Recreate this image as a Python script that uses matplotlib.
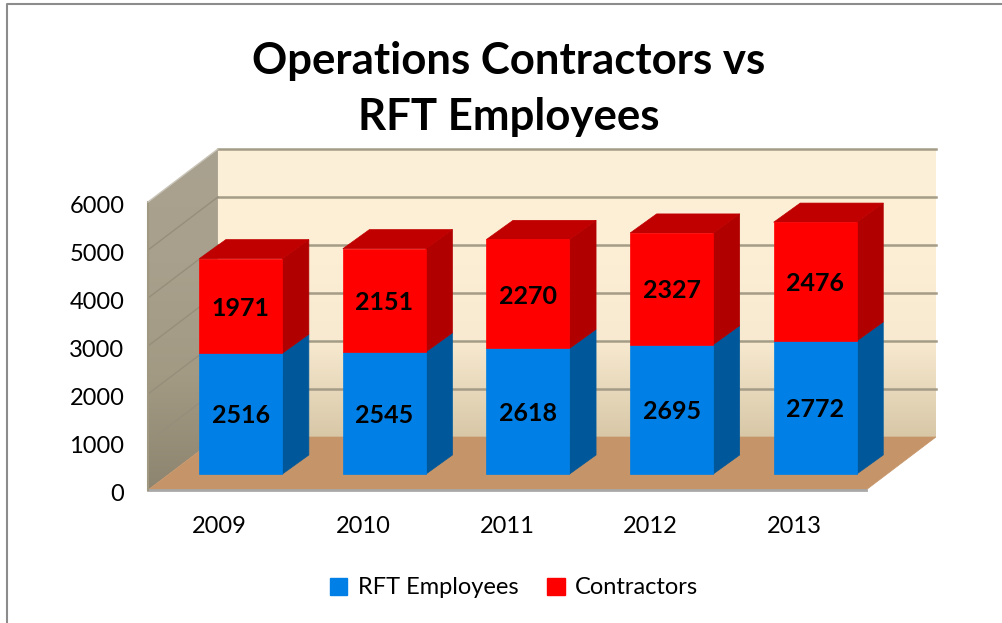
import matplotlib.pyplot as plt
import matplotlib.colors as mcolors
import matplotlib.transforms as mtrans
import numpy as np
from matplotlib.patches import Polygon, Patch

years = ['2009', '2010', '2011', '2012', '2013']
rft = [2516, 2545, 2618, 2695, 2772]
contractors = [1971, 2151, 2270, 2327, 2476]
yticks = [0, 1000, 2000, 3000, 4000, 5000, 6000]

plt.rcParams['font.family'] = ['Lato', 'DejaVu Sans']

fig = plt.figure(figsize=(10.02, 6.23), dpi=100)
ax = fig.add_axes([148 / 1002, 133 / 623, 718 / 1002, 288 / 623])
ax.set_xlim(-0.5, 4.5)
ax.set_ylim(0, 6000)
ax.patch.set_alpha(0)

# depth of the 3d box, in data units
dx = 0.487
dy = 1104
ymax = 6000
x0, x1 = -0.5, 4.5
bar_w = 0.578
bar_depth = 0.38  # part of the box depth a bar takes
bar_start = 0.30  # gap in front of the bars


def gradient(poly, stops, z):
    # vertical gradient clipped to a polygon
    cmap = mcolors.LinearSegmentedColormap.from_list('g', stops)
    xs = [p[0] for p in poly]
    ys = [p[1] for p in poly]
    im = ax.imshow(np.linspace(0, 1, 200).reshape(-1, 1), cmap=cmap, aspect='auto',
                   extent=[min(xs), max(xs), min(ys), max(ys)], origin='upper', zorder=z)
    clip = Polygon(poly, transform=ax.transData, fc='none', ec='none', clip_on=False)
    ax.add_patch(clip)
    # images get cut to the axes box otherwise
    im.set_clip_box(fig.bbox)
    im.set_clip_path(clip)


def face(pts, color, z=3):
    ax.add_patch(Polygon(pts, closed=True, fc=color, ec=color, lw=0.5, zorder=z, clip_on=False))


def bar_label(x, y, val):
    ax.annotate(str(val), (x, y), xytext=(0, -1.5), textcoords='offset points', ha='center',
                va='center', fontsize=18, fontweight='bold', color='black', zorder=5,
                annotation_clip=False)


# back wall, left wall and floor
back = [(x0 + dx, dy), (x1 + dx, dy), (x1 + dx, ymax + dy), (x0 + dx, ymax + dy)]
left = [(x0, 0), (x0 + dx, dy), (x0 + dx, ymax + dy), (x0, ymax)]
gradient(back, ['#FDF0D8', '#FCEFD6', '#F8EAD0', '#D8C8A8'], 1)
gradient(left, ['#AAA290', '#A8A08C', '#A39A84', '#8E8570'], 1)
face([(x0, 0), (x1, 0), (x1 + dx, dy), (x0 + dx, dy)], '#C59468', 1.5)

for t in yticks[1:]:
    ax.plot([x0 + dx, x1 + dx], [t + dy, t + dy], color='#A49C86', lw=1.8, zorder=2, clip_on=False)
for t in yticks[1:-1]:
    ax.plot([x0, x0 + dx], [t, t + dy], color='#968E7A', lw=1, zorder=2, clip_on=False)
ax.plot([x0, x1], [0, 0], color='#A8A8A8', lw=2, zorder=2, clip_on=False)
ax.plot([x0, x0], [0, ymax], color='#A09880', lw=1.5, zorder=2, clip_on=False)
ax.plot([x0, x0 + dx], [ymax, ymax + dy], color='#C8C4B8', lw=1, zorder=2, clip_on=False)

# stacked bars
for i in range(len(years)):
    xl = i + bar_start * dx - bar_w / 2
    xr = xl + bar_w
    y0 = bar_start * dy
    y1 = y0 + rft[i]
    y2 = y1 + contractors[i]
    ox = bar_depth * dx
    oy = bar_depth * dy * 0.95
    face([(xr, y0), (xr + ox, y0 + oy), (xr + ox, y1 + oy), (xr, y1)], '#00589A')
    face([(xr, y1), (xr + ox, y1 + oy), (xr + ox, y2 + oy), (xr, y2)], '#B00000')
    face([(xl, y2), (xr, y2), (xr + ox, y2 + oy), (xl + ox, y2 + oy)], '#C00000')
    face([(xl, y0), (xr, y0), (xr, y1), (xl, y1)], '#0080E6', 4)
    face([(xl, y1), (xr, y1), (xr, y2), (xl, y2)], '#FF0000', 4)
    bar_label(i + bar_start * dx, (y0 + y1) / 2, rft[i])
    bar_label(i + bar_start * dx, (y1 + y2) / 2, contractors[i])

ax.set_xticks(range(len(years)))
ax.set_xticklabels(years)
ax.set_yticks(yticks)
ax.tick_params(axis='both', length=0, labelsize=17, colors='black')
ax.tick_params(axis='y', pad=17)
ax.tick_params(axis='x', pad=19)
nudge = mtrans.ScaledTranslation(0, -2 / 72, fig.dpi_scale_trans)
for lab in ax.get_yticklabels():
    lab.set_transform(lab.get_transform() + nudge)
for s in ax.spines.values():
    s.set_visible(False)

fig.text(509 / 1002, 1 - 61 / 623, 'Operations Contractors vs', ha='center', va='center',
         fontsize=31.5, fontweight='bold')
fig.text(509 / 1002, 1 - 117 / 623, 'RFT Employees', ha='center', va='center',
         fontsize=31.5, fontweight='bold')

handles = [Patch(color='#0080E6', label='RFT Employees'), Patch(color='#FF0000', label='Contractors')]
fig.legend(handles=handles, loc='center', bbox_to_anchor=(514 / 1002, 1 - 588 / 623), ncol=2,
           frameon=False, fontsize=17, handlelength=0.75, handleheight=0.75,
           handletextpad=0.45, columnspacing=1.2)

# outer chart frame
fig.add_artist(plt.Line2D([6.5 / 1002, 6.5 / 1002, 1], [0, 1 - 3.5 / 623, 1 - 3.5 / 623],
                          color='#8C8C8C', lw=1.5))

fig.savefig('out.png', dpi=100)
